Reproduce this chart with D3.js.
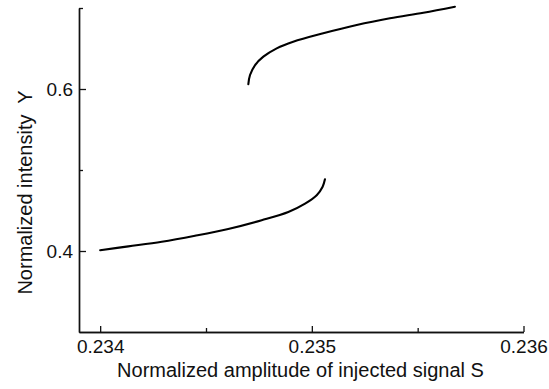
<!DOCTYPE html>
<html>
<head>
<meta charset="utf-8">
<script src="https://cdn.jsdelivr.net/npm/d3@7"></script>
<style>
  body { margin: 0; background: #fff; }
  text { font-family: "Liberation Sans", Arial, sans-serif; fill: #111; }
</style>
</head>
<body>
<div id="chart"></div>
<script>
// Bistable response: lower and upper branches (S, Y)
const lowerS = [0.234000, 0.234133, 0.234291, 0.234448, 0.234605, 0.234763, 0.234889, 0.234968, 0.235023, 0.235051, 0.235062];
const lowerY = [0.4010, 0.4057, 0.4114, 0.4188, 0.4272, 0.4380, 0.4482, 0.4585, 0.4689, 0.4794, 0.4885];
const upperS = [0.234700, 0.234708, 0.234732, 0.234771, 0.234834, 0.234912, 0.235054, 0.235212, 0.235369, 0.235527, 0.235676];
const upperY = [0.6060, 0.6173, 0.6296, 0.6399, 0.6502, 0.6584, 0.6688, 0.6790, 0.6873, 0.6942, 0.7016];

const xMajor = [0.234, 0.235, 0.236];
const xMinor = [0.2345, 0.2355];
const yMajor = [0.4, 0.6];
const yMinor = [0.5, 0.7];

const width = 549, height = 389;

const svg = d3.select("#chart").append("svg")
    .attr("width", width)
    .attr("height", height);

// Scales
const x = d3.scaleLinear().domain([0.2339, 0.236]).range([79, 523.5]);
const y = d3.scaleLinear().domain([0.3, 0.7]).range([332, 8]);

// X axis (ticks point inward)
const xAxis = svg.append("g")
    .attr("transform", `translate(0,${y(0.3)})`)
    .call(d3.axisBottom(x).tickValues(xMajor).tickSize(-6).tickSizeOuter(0)
        .tickFormat(d3.format(".3f")).tickPadding(8));
xAxis.append("g")
    .call(d3.axisBottom(x).tickValues(xMinor).tickSize(-4).tickSizeOuter(0).tickFormat(""));

// Y axis
const yAxis = svg.append("g")
    .attr("transform", `translate(${x(0.2339)},0)`)
    .call(d3.axisLeft(y).tickValues(yMajor).tickSize(-7).tickSizeOuter(0)
        .tickFormat(d3.format(".1f")).tickPadding(6));
yAxis.append("g")
    .call(d3.axisLeft(y).tickValues(yMinor).tickSize(-4).tickSizeOuter(0).tickFormat(""));

svg.selectAll(".domain").attr("stroke", "#111").attr("stroke-width", 1.4);
svg.selectAll(".tick line").attr("stroke", "#111").attr("stroke-width", 1.3);
svg.selectAll(".tick text")
    .style("font-size", "19px")
    .style("font-family", "'Liberation Sans', Arial, sans-serif")
    .attr("fill", "#111");

// Curves
const line = d3.line()
    .x(d => x(d[0]))
    .y(d => y(d[1]))
    .curve(d3.curveCatmullRom.alpha(0.5));

const branches = [
    d3.zip(lowerS, lowerY),
    d3.zip(upperS, upperY)
];

svg.selectAll("path.branch")
    .data(branches)
    .enter()
    .append("path")
    .attr("class", "branch")
    .attr("d", line)
    .attr("fill", "none")
    .attr("stroke", "#000")
    .attr("stroke-width", 2.1)
    .attr("stroke-linecap", "round");

// Axis labels
svg.append("text")
    .attr("x", 300.5)
    .attr("y", 377)
    .attr("text-anchor", "middle")
    .style("font-size", "20px")
    .text("Normalized amplitude of injected signal S");

svg.append("text")
    .attr("transform", "translate(32,192.5) rotate(-90)")
    .attr("text-anchor", "middle")
    .attr("xml:space", "preserve")
    .style("white-space", "pre")
    .style("font-size", "20px")
    .text("Normalized intensity  Y");
</script>
</body>
</html>
